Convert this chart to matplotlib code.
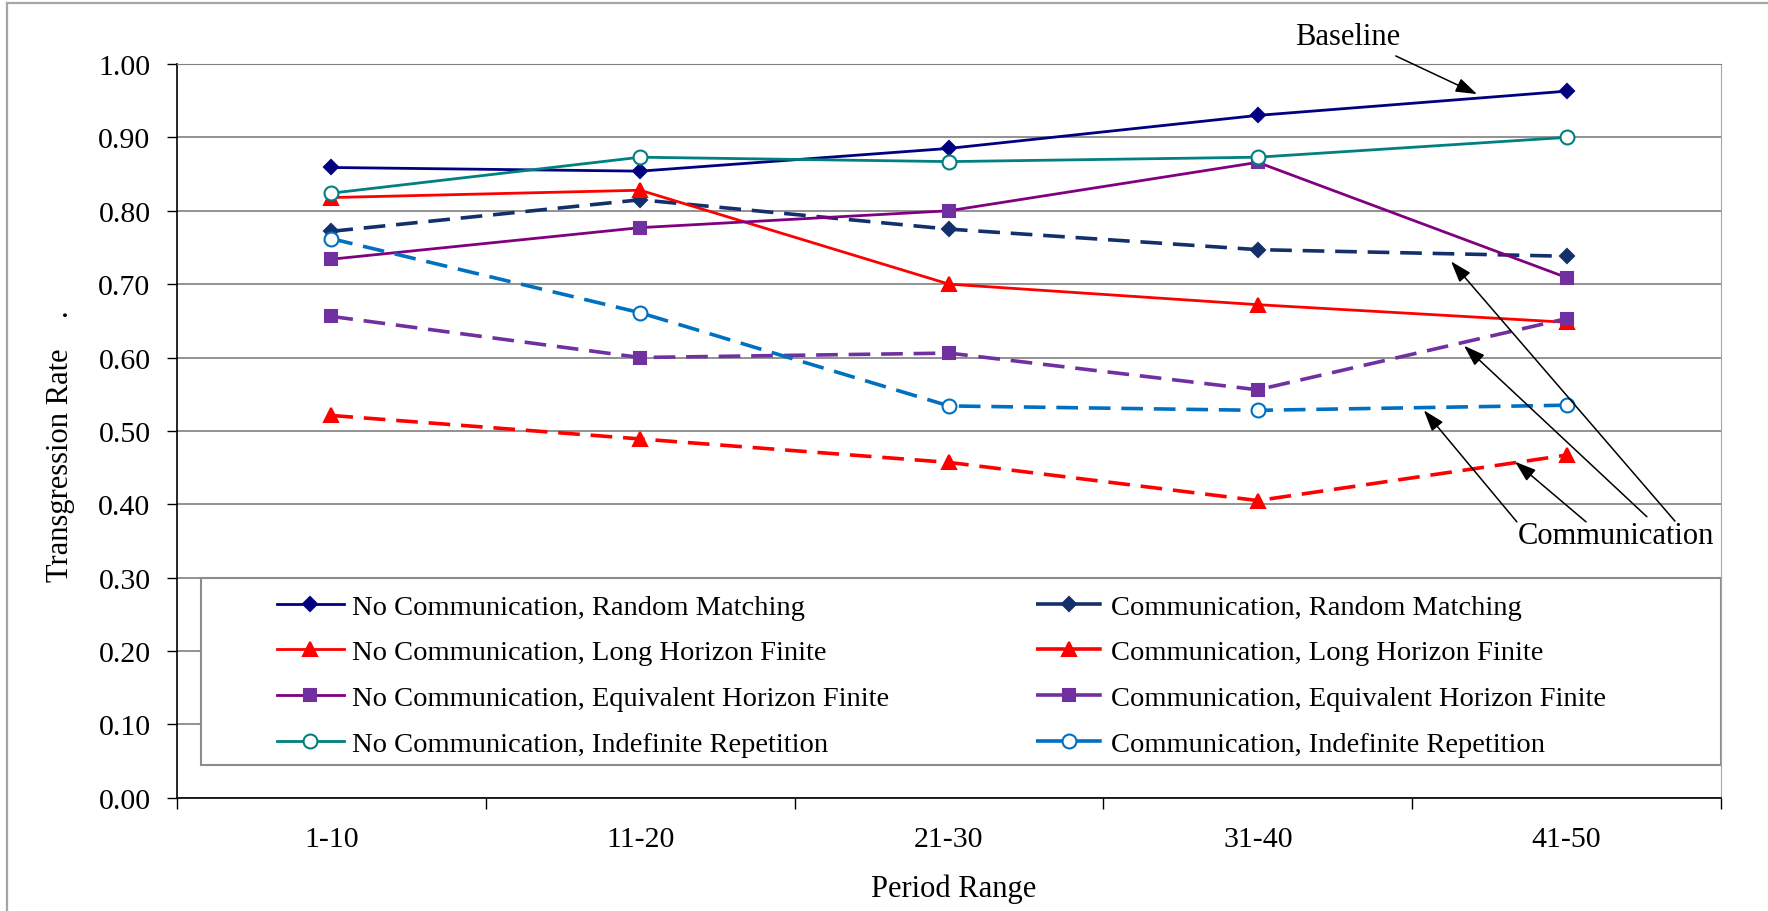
import matplotlib
matplotlib.use("Agg")
import matplotlib.pyplot as plt
from matplotlib.lines import Line2D
from matplotlib.patches import Rectangle

plt.rcParams["font.family"] = ["Liberation Serif", "DejaVu Serif"]

periods = ["1-10", "11-20", "21-30", "31-40", "41-50"]

nc_random = [0.859, 0.854, 0.885, 0.930, 0.963]
c_random = [0.772, 0.815, 0.775, 0.747, 0.738]
nc_long = [0.818, 0.828, 0.700, 0.672, 0.648]
c_long = [0.521, 0.489, 0.457, 0.405, 0.467]
nc_equiv = [0.734, 0.777, 0.800, 0.866, 0.709]
c_equiv = [0.656, 0.600, 0.606, 0.556, 0.653]
nc_indef = [0.824, 0.873, 0.867, 0.873, 0.900]
c_indef = [0.762, 0.661, 0.534, 0.528, 0.535]

labels_nc = ["No Communication, Random Matching",
             "No Communication, Long Horizon Finite",
             "No Communication, Equivalent Horizon Finite",
             "No Communication, Indefinite Repetition"]
labels_c = ["Communication, Random Matching",
            "Communication, Long Horizon Finite",
            "Communication, Equivalent Horizon Finite",
            "Communication, Indefinite Repetition"]

x = list(range(len(periods)))
dash = (6, 3)

fig = plt.figure(figsize=(17.68, 9.12), dpi=100)
ax = fig.add_axes([0.1001, 0.1242, 0.9734 - 0.1001, 0.9287 - 0.1242])


def style(color, marker, ms, dashed=False, mfc=None, mec=None, lw=2.0):
    return dict(color=color, ls="--" if dashed else "-", lw=lw, marker=marker,
                ms=ms, mfc=mfc if mfc else color, mec=mec if mec else color,
                mew=1.5)


def series(vals, st, dashed=False):
    line, = ax.plot(x, vals, clip_on=False, zorder=3, **st)
    if dashed:
        line.set_dashes(dash)
    # legend proxy: dashed handles show a gap hidden behind the marker
    proxy = Line2D([], [], **st)
    if dashed:
        proxy.set_dashes((8, 2.2))
    return proxy

# series drawn in workbook order
h1 = series(nc_random, style("#000080", "D", 7))
h5 = series(c_random, style("#14306b", "D", 7, True, lw=2.6), True)
h2 = series(nc_long, style("#ff0000", "^", 9.5))
h6 = series(c_long, style("#ff0000", "^", 9.5, True, lw=2.6), True)
h3 = series(nc_equiv, style("#800080", "s", 9, mfc="#7030a0", mec="#7030a0"))
h7 = series(c_equiv, style("#7030a0", "s", 9, True, lw=2.6), True)
h4 = series(nc_indef, style("#008080", "o", 10, mfc="white"))
h8 = series(c_indef, style("#0070c0", "o", 10, True, mfc="white", lw=2.6), True)

ax.set_xlim(-0.5, 4.5)
ax.set_ylim(0, 1)
ax.set_yticks([i / 10 for i in range(11)])
ax.set_yticklabels([f"{i / 10:.2f}" for i in range(11)])
ax.set_xticks([i - 0.5 for i in range(6)])
ax.set_xticklabels([])
ax.set_xticks(x, minor=True)
ax.set_xticklabels(periods, minor=True)
ax.tick_params(axis="x", which="major", direction="out", length=8, width=1, colors="black")
ax.tick_params(axis="x", which="minor", length=0, pad=20, labelsize=21.5)
ax.tick_params(axis="y", direction="out", length=7, width=1, pad=12, labelsize=21.5)

ax.set_axisbelow(True)
ax.yaxis.grid(True, color="#7f7f7f", lw=1.2)
ax.spines["left"].set_color("black")
ax.spines["bottom"].set_color("black")
ax.spines["left"].set_linewidth(1.2)
ax.spines["bottom"].set_linewidth(1.2)
ax.spines["top"].set_color("#7f7f7f")
ax.spines["right"].set_color("#a6a6a6")

# legend box covering the lower gridlines
ax.add_patch(Rectangle((0.0155, 0.0446), 1 - 0.0155, 0.2994 - 0.0446,
                       transform=ax.transAxes, facecolor="white",
                       edgecolor="#8c8c8c", lw=1.5, zorder=2, clip_on=False))

leg_kw = dict(frameon=False, loc="center left", borderpad=0, borderaxespad=0,
              handlelength=2.35, handletextpad=0.3, labelspacing=0.70,
              fontsize=20.5)
leg1 = ax.legend([h1, h2, h3, h4], labels_nc, bbox_to_anchor=(0.0648, 0.1668), **leg_kw)
leg1.set_zorder(4)
ax.add_artist(leg1)
leg2 = ax.legend([h5, h6, h7, h8], labels_c, bbox_to_anchor=(0.5563, 0.1668), **leg_kw)
leg2.set_zorder(4)

arrow = dict(arrowstyle="-|>,head_length=0.65,head_width=0.22", color="black",
             lw=1.1, mutation_scale=20, shrinkA=0, shrinkB=0)

ax.text(3.291, 1.037, "Baseline", fontsize=22, ha="center", va="center")
ax.annotate("", xy=(3.71, 0.959), xytext=(3.447, 1.011), arrowprops=arrow,
            annotation_clip=False)

ax.text(4.16, 0.357, "Communication", fontsize=22, ha="center", va="center", zorder=5)
comm_arrows = [((3.538, 0.528), (3.839, 0.376)),
               ((3.833, 0.458), (4.063, 0.376)),
               ((3.668, 0.616), (4.260, 0.383)),
               ((3.626, 0.731), (4.351, 0.377))]
for end, start in comm_arrows:
    ax.annotate("", xy=end, xytext=start, arrowprops=arrow, annotation_clip=False)

fig.text(0.5395, 0.0252, "Period Range", fontsize=22, ha="center", va="center")
fig.text(0.0345, 0.511, "Transgression Rate    .", fontsize=22, rotation=90,
         ha="center", va="center")

# outer chart border
fig.add_artist(Line2D([0.004, 0.004], [0, 0.9956], color="#a6a6a6", lw=1.6,
                      transform=fig.transFigure))
fig.add_artist(Line2D([0.004, 1], [0.9956, 0.9956], color="#a6a6a6", lw=1.6,
                      transform=fig.transFigure))

fig.savefig("out.png", dpi=100, facecolor="white")
